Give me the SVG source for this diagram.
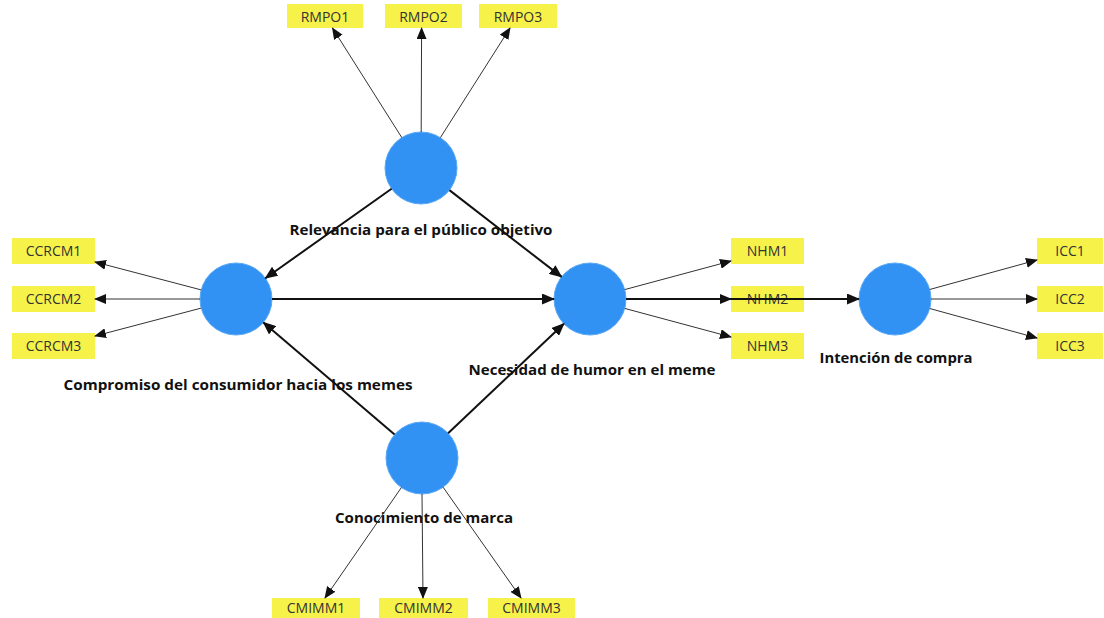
<svg xmlns="http://www.w3.org/2000/svg" width="1104" height="618" viewBox="0 0 1104 618">
<style>
.lv{fill:#3192F4;stroke:#5AA8F5;stroke-width:1}
.ind rect{fill:#F7F24A}
.ind text{font-family:"Open Sans","DejaVu Sans",sans-serif;font-size:14px;fill:#333;text-anchor:middle}
.lbl{font-family:"Open Sans","DejaVu Sans",sans-serif;font-size:14px;font-weight:bold;fill:#111;text-anchor:middle}
.thin{stroke:#333;stroke-width:1;fill:none;marker-end:url(#ah)}
.thick{stroke:#111;stroke-width:2;fill:none;marker-end:url(#ah2)}
</style>
<defs>
<marker id="ah" markerUnits="userSpaceOnUse" markerWidth="12" markerHeight="10" refX="11" refY="5" orient="auto"><path d="M0,0 L12,5 L0,10 Z" fill="#111"/></marker>
<marker id="ah2" markerUnits="userSpaceOnUse" markerWidth="13" markerHeight="11" refX="12" refY="5.5" orient="auto"><path d="M0,0 L13,5.5 L0,11 Z" fill="#111"/></marker>
</defs>
<rect width="1104" height="618" fill="#fff"/>

<g id="n-relevancia"><circle class="lv" cx="421" cy="168" r="36"/><text class="lbl" x="421" y="235" textLength="263" lengthAdjust="spacingAndGlyphs">Relevancia para el público objetivo</text></g>
<g id="n-compromiso"><circle class="lv" cx="236" cy="299" r="36"/><text class="lbl" x="238" y="390" textLength="349" lengthAdjust="spacingAndGlyphs">Compromiso del consumidor hacia los memes</text></g>
<g id="n-necesidad"><circle class="lv" cx="590" cy="299" r="36"/><text class="lbl" x="592" y="375" textLength="247" lengthAdjust="spacingAndGlyphs">Necesidad de humor en el meme</text></g>
<g id="n-intencion"><circle class="lv" cx="895" cy="299" r="36"/><text class="lbl" x="896" y="363" textLength="153" lengthAdjust="spacingAndGlyphs">Intención de compra</text></g>
<g id="n-conocimiento"><circle class="lv" cx="422" cy="458" r="36"/><text class="lbl" x="424" y="523" textLength="178" lengthAdjust="spacingAndGlyphs">Conocimiento de marca</text></g>

<g id="i-RMPO1" class="ind"><rect x="287" y="4" width="76" height="24"/><text x="325" y="22">RMPO1</text></g>
<g id="i-RMPO2" class="ind"><rect x="385" y="4" width="77" height="24"/><text x="423.5" y="22">RMPO2</text></g>
<g id="i-RMPO3" class="ind"><rect x="479" y="4" width="78" height="24"/><text x="518" y="22">RMPO3</text></g>
<g id="i-CCRCM1" class="ind"><rect x="12" y="238" width="83" height="26"/><text x="53.5" y="256">CCRCM1</text></g>
<g id="i-CCRCM2" class="ind"><rect x="12" y="286" width="83" height="26"/><text x="53.5" y="304">CCRCM2</text></g>
<g id="i-CCRCM3" class="ind"><rect x="12" y="333" width="83" height="26"/><text x="53.5" y="351">CCRCM3</text></g>
<g id="i-NHM1" class="ind"><rect x="731" y="238" width="73" height="26"/><text x="767.5" y="256">NHM1</text></g>
<g id="i-NHM2" class="ind"><rect x="731" y="286" width="73" height="26"/><text x="767.5" y="304">NHM2</text></g>
<g id="i-NHM3" class="ind"><rect x="731" y="333" width="73" height="26"/><text x="767.5" y="351">NHM3</text></g>
<g id="i-ICC1" class="ind"><rect x="1037" y="238" width="66" height="26"/><text x="1070" y="256">ICC1</text></g>
<g id="i-ICC2" class="ind"><rect x="1037" y="286" width="66" height="26"/><text x="1070" y="304">ICC2</text></g>
<g id="i-ICC3" class="ind"><rect x="1037" y="333" width="66" height="26"/><text x="1070" y="351">ICC3</text></g>
<g id="i-CMIMM1" class="ind"><rect x="272" y="598" width="88" height="20"/><text x="316" y="613">CMIMM1</text></g>
<g id="i-CMIMM2" class="ind"><rect x="379" y="598" width="89" height="20"/><text x="423.5" y="613">CMIMM2</text></g>
<g id="i-CMIMM3" class="ind"><rect x="488" y="598" width="87" height="20"/><text x="531.5" y="613">CMIMM3</text></g>

<g id="connectors">
<line class="thin" x1="401.8" y1="137.6" x2="332.5" y2="28"/>
<line class="thin" x1="421.2" y1="132" x2="421.6" y2="28"/>
<line class="thin" x1="440.4" y1="137.6" x2="510" y2="28"/>
<line class="thin" x1="201.2" y1="289.9" x2="95" y2="262"/>
<line class="thin" x1="200" y1="299" x2="95" y2="299"/>
<line class="thin" x1="201.2" y1="308.1" x2="95" y2="336"/>
<line class="thin" x1="624.7" y1="289.6" x2="731" y2="261"/>
<line class="thin" x1="626" y1="299" x2="731" y2="299"/>
<line class="thin" x1="624.7" y1="308.4" x2="731" y2="337"/>
<line class="thin" x1="929.7" y1="289.5" x2="1037" y2="260"/>
<line class="thin" x1="931" y1="299" x2="1037" y2="299"/>
<line class="thin" x1="929.7" y1="308.5" x2="1037" y2="338"/>
<line class="thin" x1="401.4" y1="487.5" x2="325" y2="598"/>
<line class="thin" x1="422" y1="494" x2="423" y2="598"/>
<line class="thin" x1="443.1" y1="487.2" x2="521" y2="598"/>
<line class="thick" x1="391.6" y1="188.8" x2="265.4" y2="278.2"/>
<line class="thick" x1="449.4" y1="190.1" x2="561.6" y2="276.9"/>
<line class="thick" x1="394.6" y1="434.6" x2="263.4" y2="322.4"/>
<line class="thick" x1="448.1" y1="433.3" x2="563.9" y2="323.7"/>
<line class="thick" x1="272" y1="299" x2="554" y2="299"/>
<line class="thick" x1="626" y1="299" x2="859" y2="299"/>
</g>
</svg>
